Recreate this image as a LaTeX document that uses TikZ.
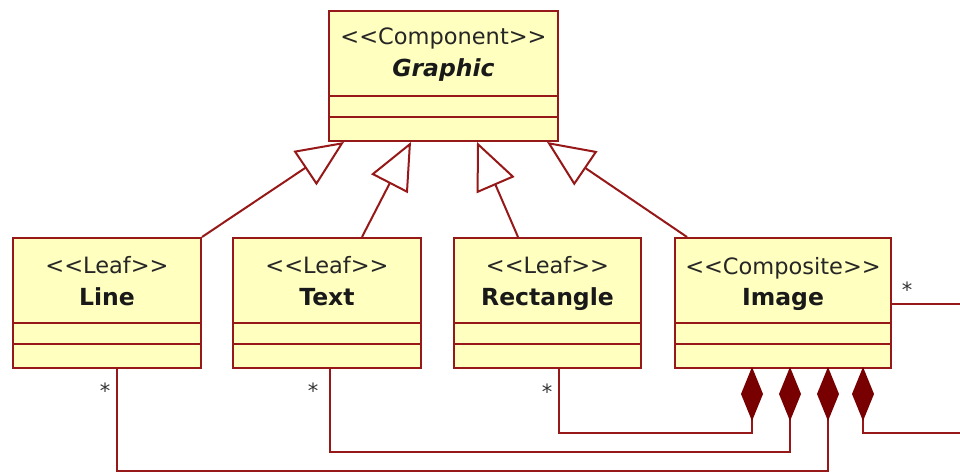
\documentclass[tikz,border=0pt]{standalone}
\usepackage{fontspec}
\setmainfont{DejaVu Sans}
\usetikzlibrary{arrows.meta,calc}
\definecolor{cRed}{HTML}{961818}
\definecolor{cFill}{HTML}{FFFFC0}
\definecolor{cDia}{HTML}{780000}
\begin{document}
\begin{tikzpicture}[x=1pt,y=-1pt,
 cls/.style={draw=cRed, fill=cFill, line width=2pt, inner sep=0pt, anchor=north west, minimum width=#1, minimum height=130pt},
 ster/.style={anchor=base, inner sep=0pt, font=\fontsize{22.5pt}{26pt}\selectfont, text=black!85},
 cname/.style={anchor=base, inner sep=0pt, font=\fontsize{23.5pt}{28pt}\selectfont\bfseries, text=black!90},
 div/.style={draw=cRed, line width=2pt},
 gen/.style={draw=cRed, line width=2pt, -{Triangle[open, length=47pt, width=41pt, fill=white]}},
 comp/.style={draw=cRed, line width=2pt, {Diamond[length=54pt, width=22pt, fill=cDia, color=cDia]}-},
 assoc/.style={draw=cRed, line width=2pt},
 mult/.style={anchor=base, inner sep=0pt, font=\fontsize{21pt}{24pt}\selectfont, text=black!80}]
\useasboundingbox (0,0) rectangle (960,473);

% class boxes
\node[cls=229pt] (G) at (328,10) {};
\node[cls=188pt] (L) at (12,237) {};
\node[cls=188pt] (T) at (232,237) {};
\node[cls=187pt] (R) at (453,237) {};
\node[cls=216pt] (I) at (674,237) {};

\foreach \n in {G,L,T,R,I} {
  \draw[div] ($(\n.north west)+(0,86)$) -- ($(\n.north east)+(0,86)$);
  \draw[div] ($(\n.north west)+(0,107)$) -- ($(\n.north east)+(0,107)$);
}

% texts
\node[ster] (Gs) at ($(G.north)+(0,35)$) {<{}<Component>{}>};
\node[cname, font=\fontsize{23.5pt}{28pt}\selectfont\bfseries\itshape] (Gn) at ($(G.north)+(0,67)$) {Graphic};
\node[ster] (Ls) at ($(L.north)+(0,36)$) {<{}<Leaf>{}>};
\node[cname] (Ln) at ($(L.north)+(0,68)$) {Line};
\node[ster] (Ts) at ($(T.north)+(0,36)$) {<{}<Leaf>{}>};
\node[cname] (Tn) at ($(T.north)+(0,68)$) {Text};
\node[ster] (Rs) at ($(R.north)+(0,36)$) {<{}<Leaf>{}>};
\node[cname] (Rn) at ($(R.north)+(0,68)$) {Rectangle};
\node[ster] (Is) at ($(I.north)+(0,37)$) {<{}<Composite>{}>};
\node[cname] (In) at ($(I.north)+(0,68)$) {Image};

% generalizations
\coordinate (g1) at (344,142);
\coordinate (g2) at (411,142);
\coordinate (g3) at (477,142);
\coordinate (g4) at (547,142);
\coordinate (s1) at (202,237);
\coordinate (s2) at (362,237);
\coordinate (s3) at (518,237);
\coordinate (s4) at (687,237);
\draw[gen] (s1) -- (g1);
\draw[gen] (s2) -- (g2);
\draw[gen] (s3) -- (g3);
\draw[gen] (s4) -- (g4);

% compositions
\coordinate (d1) at (752,367);
\coordinate (d2) at (790,367);
\coordinate (d3) at (828,367);
\coordinate (d4) at (863,367);
\coordinate (lb) at (117,367);
\coordinate (tb) at (330,367);
\coordinate (rb) at (559,367);
\coordinate (e1) at (960,304);
\coordinate (e2) at (960,433);
\coordinate (ie) at (890,304);
\draw[comp] (d1) -- ++(0,66) -| (rb);
\draw[comp] (d2) -- ++(0,85) -| (tb);
\draw[comp] (d3) -- ++(0,104) -| (lb);
\draw[comp] (d4) -- ++(0,66) -- (e2);
\draw[assoc] (ie) -- (e1);

% multiplicities
\node[mult] (m1) at (105,398) {*};
\node[mult] (m2) at (313,398) {*};
\node[mult] (m3) at (547,399) {*};
\node[mult] (m4) at (907,297) {*};
\end{tikzpicture}
\end{document}
